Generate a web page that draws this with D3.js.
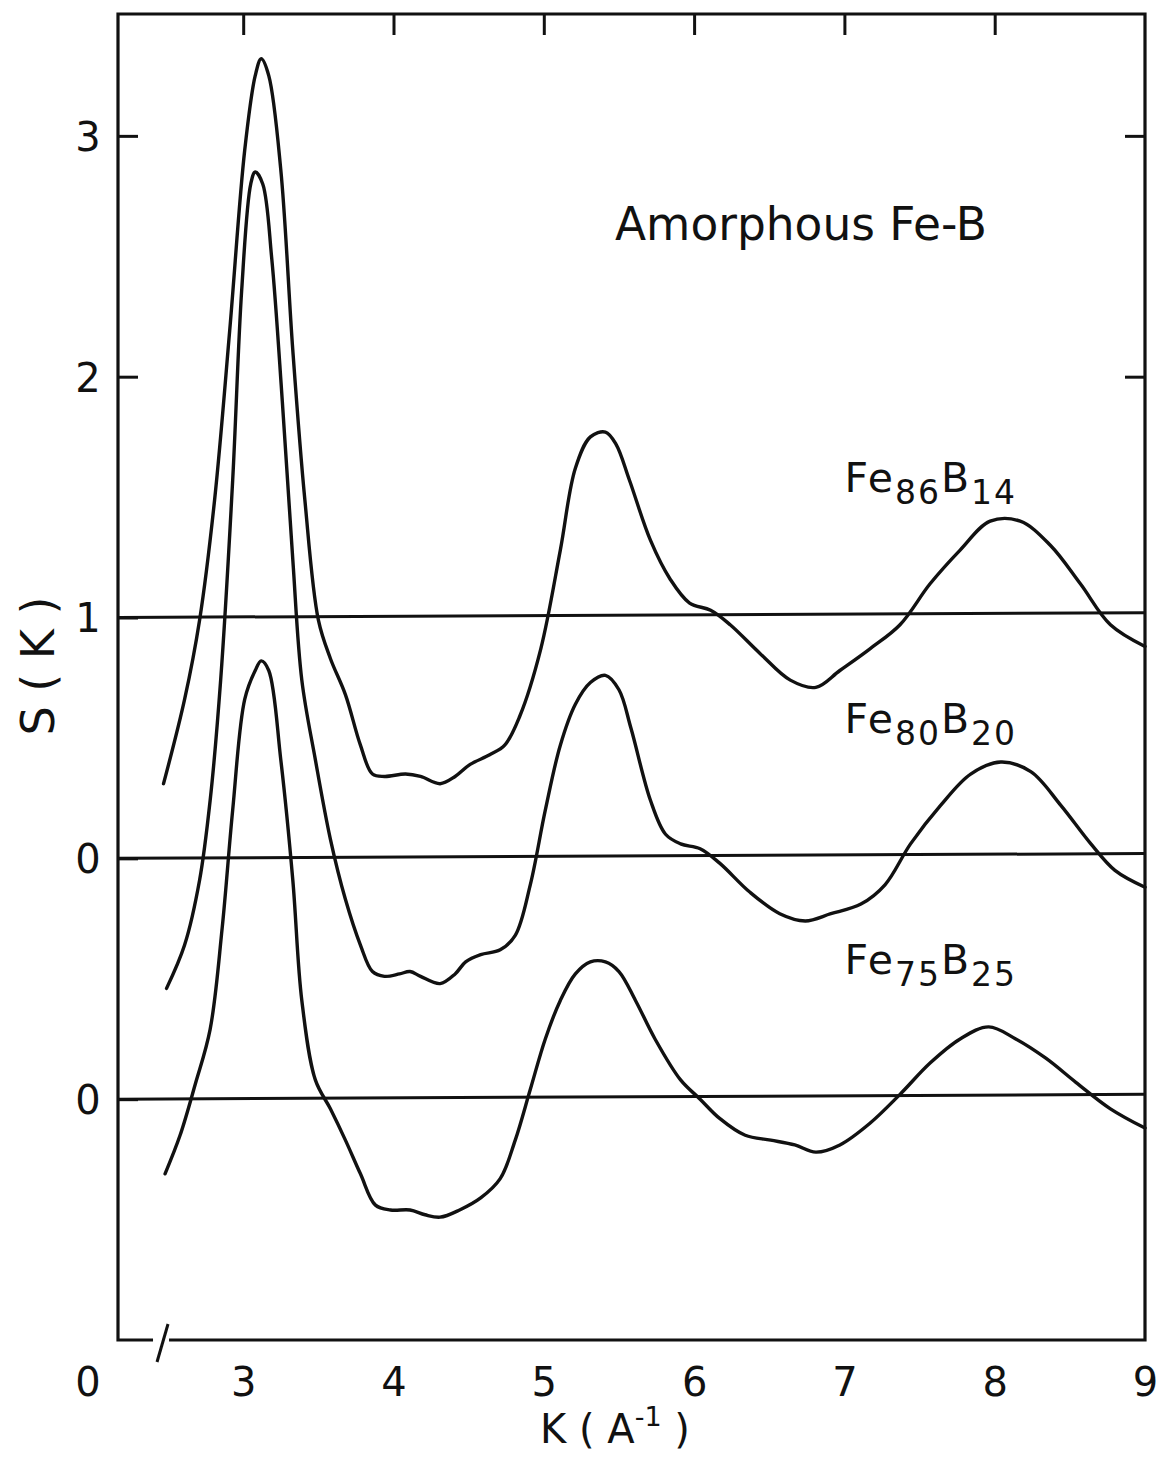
<!DOCTYPE html>
<html>
<head>
<meta charset="utf-8">
<script src="https://cdn.jsdelivr.net/npm/d3@7"></script>
<style>
  body { margin: 0; background: #fff; }
  text { font-family: "DejaVu Sans", sans-serif; fill: #111; }
</style>
</head>
<body>
<svg id="chart" width="1162" height="1458"></svg>
<script>
// S(K) curves (curves are stacked: Fe86B14 around 1, Fe80B20 around 0, Fe75B25 around -1)
const kFe86 = [2.47,2.61,2.71,2.81,2.91,3.01,3.08,3.12,3.17,3.25,3.33,3.41,3.50,3.58,3.68,3.78,3.86,3.94,4.08,4.18,4.31,4.41,4.51,4.64,4.74,4.84,4.98,5.11,5.21,5.31,5.41,5.48,5.57,5.71,5.84,5.97,6.11,6.24,6.44,6.64,6.81,6.97,7.17,7.37,7.57,7.77,7.97,8.17,8.37,8.57,8.77,9.0]
const sFe86 = [0.31,0.66,0.99,1.49,2.19,2.94,3.25,3.32,3.25,2.86,2.11,1.49,0.99,0.83,0.68,0.47,0.35,0.34,0.35,0.34,0.31,0.34,0.39,0.43,0.47,0.59,0.87,1.28,1.62,1.75,1.77,1.72,1.57,1.32,1.16,1.06,1.03,0.97,0.85,0.74,0.71,0.78,0.87,0.97,1.14,1.28,1.40,1.40,1.30,1.14,0.97,0.88]

const kFe80 = [2.49,2.61,2.71,2.78,2.85,2.93,2.99,3.05,3.08,3.13,3.19,3.26,3.33,3.39,3.48,3.58,3.68,3.78,3.86,3.94,4.04,4.11,4.18,4.31,4.41,4.48,4.58,4.71,4.81,4.91,5.01,5.11,5.21,5.31,5.41,5.50,5.58,5.71,5.81,5.91,6.04,6.17,6.37,6.57,6.74,6.91,7.11,7.27,7.44,7.64,7.84,8.04,8.24,8.44,8.64,8.80,9.0]
const sFe80 = [-0.54,-0.36,-0.09,0.24,0.74,1.57,2.36,2.80,2.85,2.80,2.49,1.90,1.24,0.74,0.41,0.08,-0.17,-0.36,-0.47,-0.49,-0.48,-0.47,-0.49,-0.52,-0.48,-0.43,-0.40,-0.38,-0.32,-0.11,0.20,0.47,0.64,0.73,0.76,0.70,0.54,0.24,0.10,0.06,0.04,-0.02,-0.14,-0.23,-0.26,-0.23,-0.19,-0.11,0.06,0.22,0.35,0.40,0.36,0.22,0.06,-0.05,-0.12]

const kFe75 = [2.48,2.58,2.68,2.78,2.86,2.93,3.01,3.08,3.12,3.17,3.25,3.33,3.39,3.48,3.58,3.68,3.78,3.88,3.98,4.11,4.21,4.31,4.44,4.58,4.71,4.81,4.91,5.01,5.11,5.21,5.31,5.41,5.50,5.61,5.74,5.91,6.04,6.17,6.34,6.51,6.67,6.81,6.97,7.17,7.37,7.57,7.77,7.96,8.14,8.34,8.54,8.77,9.0]
const sFe75 = [-1.31,-1.15,-0.94,-0.71,-0.29,0.20,0.66,0.78,0.82,0.78,0.41,-0.09,-0.59,-0.92,-1.04,-1.17,-1.31,-1.44,-1.46,-1.46,-1.48,-1.49,-1.46,-1.41,-1.33,-1.17,-0.96,-0.75,-0.59,-0.48,-0.43,-0.43,-0.47,-0.59,-0.75,-0.92,-1.00,-1.08,-1.15,-1.17,-1.19,-1.22,-1.19,-1.10,-0.98,-0.85,-0.75,-0.70,-0.75,-0.83,-0.93,-1.04,-1.12]

// reference lines (left end, right end)
const baseLeft = [1, 0, -1]
const baseRight = [1.02, 0.02, -0.98]

const xTicks = [3, 4, 5, 6, 7, 8, 9]
const xTopTicks = [3, 4, 5, 6, 7, 8]
const yTicks = [3, 2, 1, 0, -1]
const yTickLabels = ["3", "2", "1", "0", "0"]
const yRightTicks = [3, 2]

const labels = [
  { main: "Fe", a: "86", b: "B", c: "14", k: 7.0, s: 1.52 },
  { main: "Fe", a: "80", b: "B", c: "20", k: 7.0, s: 0.52 },
  { main: "Fe", a: "75", b: "B", c: "25", k: 7.0, s: -0.48 }
]

const pLeft = 118, pRight = 1145, pTop = 14, pBottom = 1340

const svg = d3.select("#chart")
const x = d3.scaleLinear().domain([2.167, 9]).range([pLeft, pRight])
const y = d3.scaleLinear().domain([-2.0, 3.506]).range([pBottom, pTop])

// reference lines
svg.append("g").selectAll("line")
  .data(baseLeft.map((v, i) => [v, baseRight[i]]))
  .join("line")
  .attr("x1", pLeft).attr("x2", pRight)
  .attr("y1", d => y(d[0])).attr("y2", d => y(d[1]))
  .attr("stroke", "#111").attr("stroke-width", 3)

// curves
const line = d3.line().x(d => x(d[0])).y(d => y(d[1])).curve(d3.curveCatmullRom.alpha(0.5))
const series = [[kFe86, sFe86], [kFe80, sFe80], [kFe75, sFe75]]
svg.append("g").selectAll("path")
  .data(series.map(([k, s]) => k.map((v, i) => [v, s[i]])))
  .join("path")
  .attr("d", line)
  .attr("fill", "none").attr("stroke", "#111").attr("stroke-width", 3.4)
  .attr("stroke-linejoin", "round").attr("stroke-linecap", "round")

// frame (bottom has a break near the origin)
const xb = x(2.4)
svg.append("path")
  .attr("d", `M${xb + 16},${pBottom}H${pRight}V${pTop}H${pLeft}V${pBottom}H${xb}`)
  .attr("fill", "none").attr("stroke", "#111").attr("stroke-width", 3.2)
svg.append("path")
  .attr("d", `M${xb + 4},${pBottom + 22}L${xb + 15},${pBottom - 16}`)
  .attr("fill", "none").attr("stroke", "#111").attr("stroke-width", 3)

// left axis
const yAxis = svg.append("g").attr("transform", `translate(${pLeft},0)`)
  .call(d3.axisLeft(y).tickValues(yTicks).tickSize(-20).tickFormat((d, i) => yTickLabels[i]))
yAxis.select(".domain").remove()
yAxis.selectAll("line").attr("stroke", "#111").attr("stroke-width", 3)
yAxis.selectAll("text").attr("x", -30).attr("text-anchor", "middle")
  .attr("font-size", 40).attr("dy", "0.36em")

// right ticks
const yAxisR = svg.append("g").attr("transform", `translate(${pRight},0)`)
  .call(d3.axisRight(y).tickValues(yRightTicks).tickSize(-20).tickFormat(""))
yAxisR.select(".domain").remove()
yAxisR.selectAll("line").attr("stroke", "#111").attr("stroke-width", 3)

// top ticks
const xAxisT = svg.append("g").attr("transform", `translate(0,${pTop})`)
  .call(d3.axisTop(x).tickValues(xTopTicks).tickSize(-21).tickFormat(""))
xAxisT.select(".domain").remove()
xAxisT.selectAll("line").attr("stroke", "#111").attr("stroke-width", 3)

// bottom labels
const xAxisB = svg.append("g").attr("transform", `translate(0,${pBottom})`)
  .call(d3.axisBottom(x).tickValues(xTicks).tickSize(0).tickPadding(28).tickFormat(d3.format("d")))
xAxisB.select(".domain").remove()
xAxisB.selectAll("text").attr("font-size", 40)
svg.append("text").attr("x", pLeft - 30).attr("y", pBottom + 28).attr("dy", "0.71em")
  .attr("text-anchor", "middle").attr("font-size", 40).text("0")

// axis titles
const xt = svg.append("text").attr("x", 615).attr("y", 1443).attr("text-anchor", "middle").attr("font-size", 40)
xt.append("tspan").text("K ( A")
xt.append("tspan").attr("font-size", 27).attr("dy", -17).text("-1")
xt.append("tspan").attr("dy", 17).text(" )")

svg.append("text")
  .attr("transform", `translate(54,666) rotate(-90)`)
  .attr("text-anchor", "middle").attr("font-size", 46)
  .text("S ( K )")

// annotations
svg.append("text").attr("x", 615).attr("y", 240).attr("font-size", 46)
  .attr("textLength", 372).attr("lengthAdjust", "spacingAndGlyphs")
  .text("Amorphous Fe-B")

labels.forEach(l => {
  const t = svg.append("text").attr("x", x(l.k)).attr("y", y(l.s)).attr("font-size", 41)
    .attr("letter-spacing", 2)
  t.append("tspan").text(l.main)
  t.append("tspan").attr("font-size", 33).attr("dy", 12).text(l.a)
  t.append("tspan").attr("dy", -12).text(l.b)
  t.append("tspan").attr("font-size", 33).attr("dy", 12).text(l.c)
})
</script>
</body>
</html>
